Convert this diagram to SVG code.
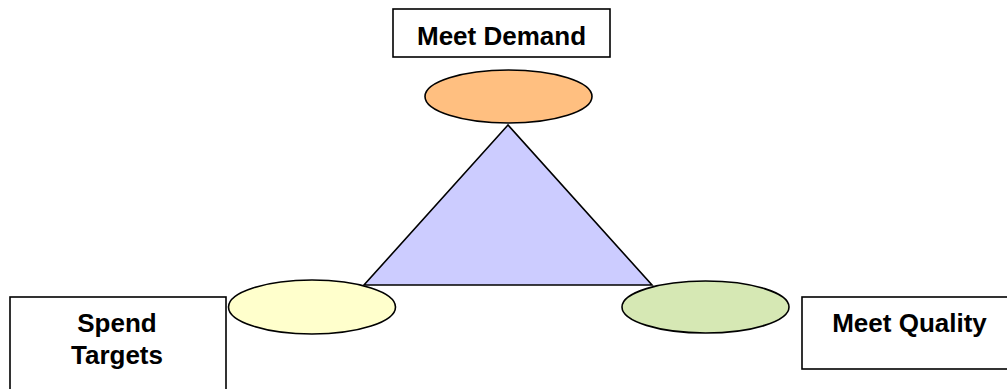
<svg xmlns="http://www.w3.org/2000/svg" width="1007" height="389" viewBox="0 0 1007 389">
<style>
.box{fill:#ffffff;stroke:#000000;stroke-width:1.6}
.ell{stroke:#000000;stroke-width:1.6}
.lbl{font-family:"Liberation Sans",Arial,sans-serif;font-weight:bold;font-size:26px;fill:#000000;text-anchor:middle}
</style>
<rect width="1007" height="389" fill="#ffffff"/>
<g id="connectors">
<polygon points="508,125 364,285 652,285" fill="#ccccff" stroke="#000000" stroke-width="1.6" stroke-linejoin="miter"/>
</g>
<g id="ellipse-top"><ellipse class="ell" cx="508.5" cy="96.5" rx="83.5" ry="26.5" fill="#ffbf80"/></g>
<g id="ellipse-left"><ellipse class="ell" cx="312" cy="307" rx="83.5" ry="27" fill="#ffffcc"/></g>
<g id="ellipse-right"><ellipse class="ell" cx="705.5" cy="307" rx="83.5" ry="26" fill="#d6e8b4"/></g>
<g id="meet-demand">
<rect class="box" x="393" y="9" width="217" height="48"/>
<text class="lbl" x="501.5" y="45">Meet Demand</text>
</g>
<g id="spend-targets">
<rect class="box" x="10" y="297" width="216" height="110"/>
<text class="lbl" x="117" y="332">Spend</text>
<text class="lbl" x="117" y="364">Targets</text>
</g>
<g id="meet-quality">
<rect class="box" x="802" y="297" width="215" height="72"/>
<text class="lbl" x="909.5" y="332">Meet Quality</text>
</g>
</svg>
